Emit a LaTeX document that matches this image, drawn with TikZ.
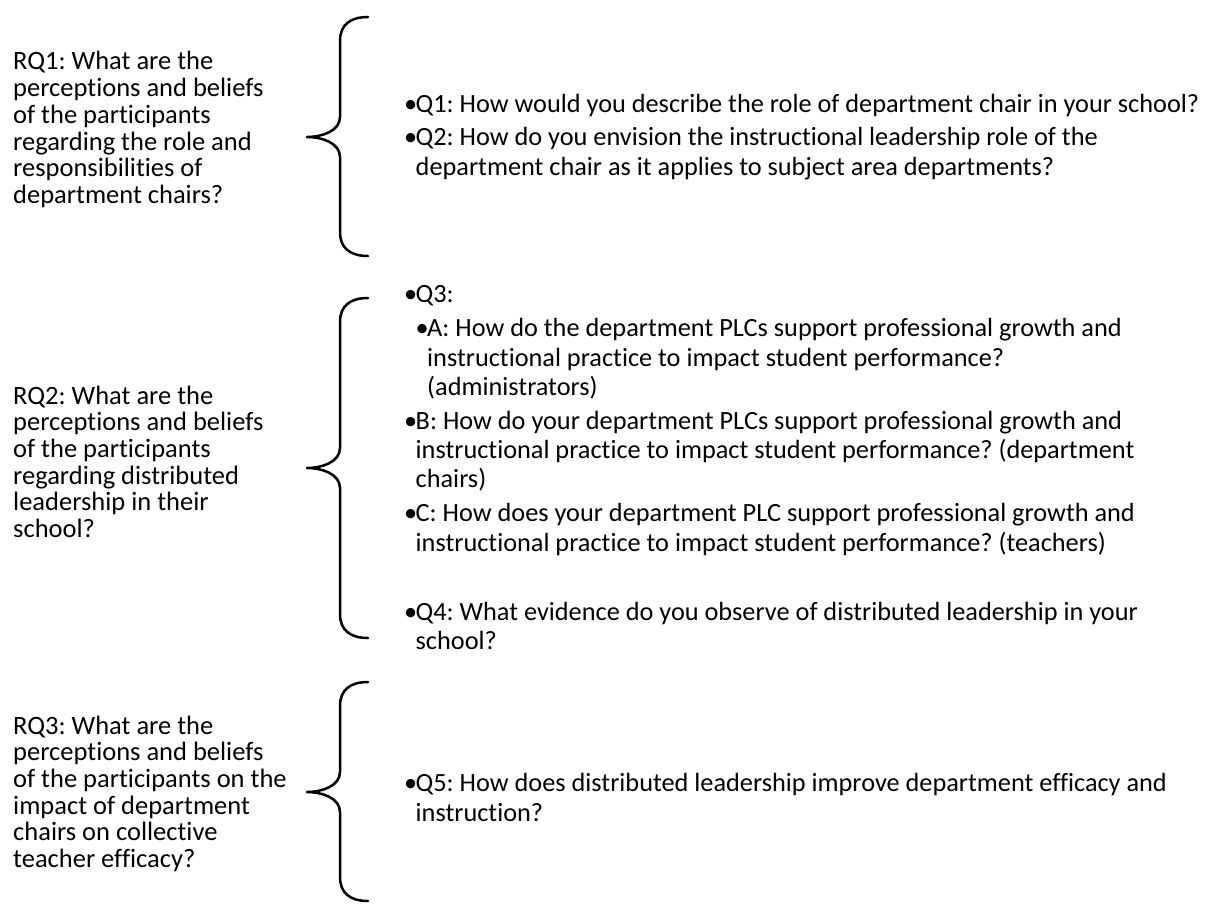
\documentclass[tikz,border=0pt]{standalone}
\usepackage{fontspec}
\setmainfont{Carlito}[Ligatures=NoCommon]
\frenchspacing
\tikzset{
  rqtext/.style={anchor=base west, inner sep=0pt, font=\fontsize{26.5}{26.7}\selectfont},
  qtext/.style={anchor=base west, inner sep=0pt, font=\fontsize{26.3}{29.3}\selectfont},
  bracepath/.style={line width=2.5pt, line cap=round, line join=round, black}
}
\newcommand\rw[1]{\hbox{#1}}
\newcommand\RQblock[1]{\vtop{\baselineskip=26.7pt\lineskiplimit=-40pt\lineskip=0pt #1}}
\newcommand\Qblock[1]{\vtop{\baselineskip=29.3pt\lineskiplimit=-40pt\lineskip=0pt #1}}
\newcommand\bul{\llap{•\kern-1.5pt}}
\newcommand\curlyb[3]{%
  \draw[bracepath] (368,#1) .. controls (350,#1) and (340,#1+8) .. (340,#1+24)
    -- (340,#2-20) .. controls (340,#2-6) and (322,#2) .. (307,#2)
    .. controls (322,#2) and (340,#2+6) .. (340,#2+20)
    -- (340,#3-24) .. controls (340,#3-8) and (350,#3) .. (368,#3);}
\begin{document}
\begin{tikzpicture}[x=1pt,y=-1pt]
\useasboundingbox (0,0) rectangle (1214,915);
% left research questions
\node[rqtext] (rq1) at (13,70) {\RQblock{\rw{RQ1: What are the}\rw{perceptions and beliefs}\rw{of the participants}\rw{regarding the role and}\rw{responsibilities of}\rw{department chairs?}}};
\node[rqtext] (rq2) at (13,404) {\RQblock{\rw{RQ2: What are the}\rw{perceptions and beliefs}\rw{of the participants}\rw{regarding distributed}\rw{leadership in their}\rw{school?}}};
\node[rqtext] (rq3) at (13,734) {\RQblock{\rw{RQ3: What are the}\rw{perceptions and beliefs}\rw{of the participants on the}\rw{impact of department}\rw{chairs on collective}\rw{teacher efficacy?}}};
% braces
\curlyb{17}{137}{256}
\curlyb{298}{468}{638}
\curlyb{682}{792}{901}
% interview questions
\node[qtext] (q1) at (415.5,112.3) {\Qblock{\rw{\bul Q1: How would you describe the role of department chair in your school?}}};
\node[qtext] (q2) at (415.5,145.7) {\Qblock{\rw{\bul Q2: How do you envision the instructional leadership role of the}\rw{department chair as it applies to subject area departments?}}};
\node[qtext] (q3) at (415.5,302.3) {\Qblock{\rw{\bul Q3:}}};
\node[qtext] (q3a) at (427,336.7) {\Qblock{\rw{\bul A: How do the department PLCs support professional growth and}\rw{instructional practice to impact student performance?}\rw{(administrators)}}};
\node[qtext] (q3b) at (415.5,429.3) {\Qblock{\rw{\bul B: How do your department PLCs support professional growth and}\rw{instructional practice to impact student performance? (department}\rw{chairs)}}};
\node[qtext] (q3c) at (415.5,521.7) {\Qblock{\rw{\bul C: How does your department PLC support professional growth and}\rw{instructional practice to impact student performance? (teachers)}}};
\node[qtext] (q4) at (415.5,620) {\Qblock{\rw{\bul Q4: What evidence do you observe of distributed leadership in your}\rw{school?}}};
\node[qtext] (q5) at (415.5,791.7) {\Qblock{\rw{\bul Q5: How does distributed leadership improve department efficacy and}\rw{instruction?}}};
\end{tikzpicture}
\end{document}
